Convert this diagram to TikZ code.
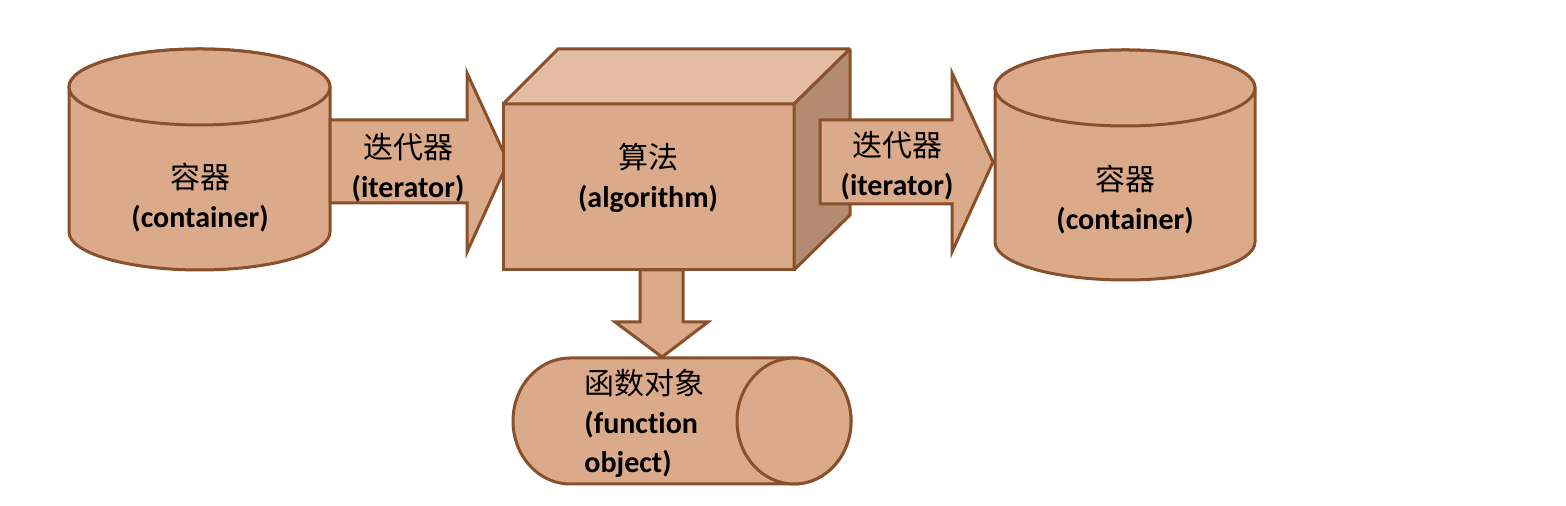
\documentclass[tikz,border=0pt]{standalone}
\usepackage{fontspec}
\setmainfont{Carlito}[Ligatures=NoCommon]
\newfontfamily\cjk{Noto Sans CJK SC}
\definecolor{bfill}{RGB}{219,170,139}
\definecolor{btop}{RGB}{228,188,161}
\definecolor{bside}{RGB}{179,139,112}
\definecolor{bline}{RGB}{137,80,44}
\tikzset{
  shapebox/.style={fill=bfill, draw=bline, line width=1.5pt, line join=miter},
  cubeface/.style={shapebox, miter limit=1.5},
  lbl/.style={font=\fontsize{15}{19.5}\selectfont\bfseries, align=center, inner sep=0pt, text=black}
}
\begin{document}
\begin{tikzpicture}[x=0.5pt,y=0.5pt]
\useasboundingbox (0,0) rectangle (1566,506);
% left cylinder
\draw[shapebox] (69,419) -- (69,274) arc[start angle=180,end angle=360,x radius=65.25pt,y radius=19pt] -- (330,419) arc[start angle=0,end angle=180,x radius=65.25pt,y radius=19pt] -- cycle;
\draw[shapebox] (199.5,419) ellipse[x radius=65.25pt,y radius=19pt];
% left arrow
\draw[shapebox] (330,386) -- (467,386) -- (467,433) -- (508,344) -- (467,254) -- (467,303) -- (330,303) -- cycle;
% cube
\draw[cubeface] (503,402) rectangle (794,236);
\draw[cubeface, fill=btop] (503,402) -- (558,457) -- (850,457) -- (794,402) -- cycle;
\draw[cubeface, fill=bside] (794,402) -- (850,457) -- (850,291) -- (794,236) -- cycle;
% right arrow
\draw[shapebox] (820,386) -- (952,386) -- (952,433) -- (993,344) -- (952,254) -- (952,302) -- (820,302) -- cycle;
% right cylinder
\draw[shapebox] (995,418) -- (995,264) arc[start angle=180,end angle=360,x radius=65pt,y radius=19pt] -- (1255,418) arc[start angle=0,end angle=180,x radius=65pt,y radius=19pt] -- cycle;
\draw[shapebox] (1125,418) ellipse[x radius=65pt,y radius=19pt];
% horizontal cylinder
\draw[shapebox] (570,148) -- (794,148) arc[start angle=90,end angle=-90,x radius=28.5pt,y radius=31.5pt] -- (570,22) arc[start angle=270,end angle=90,x radius=28.5pt,y radius=31.5pt] -- cycle;
\draw[shapebox] (794,85) ellipse[x radius=28.5pt,y radius=31.5pt];
% down arrow
\draw[shapebox] (640,236) -- (683,236) -- (683,184) -- (708,184) -- (662,149) -- (615,184) -- (640,184) -- cycle;
% labels
\node[lbl] (c1) at (200,308.5) {{\cjk\mdseries 容器}\\(container)};
\node[lbl] (it1) at (408,338.5) {{\cjk\mdseries 迭代器}\\(iterator)};
\node[lbl] (alg) at (648,328.5) {{\cjk\mdseries 算法}\\(algorithm)};
\node[lbl] (it2) at (897,340) {{\cjk\mdseries 迭代器}\\(iterator)};
\node[lbl] (c2) at (1125,306) {{\cjk\mdseries 容器}\\(container)};
\node[lbl, align=left, anchor=west] (fo) at (584,83) {{\cjk\mdseries 函数对象}\\(function\\object)};
\end{tikzpicture}
\end{document}
